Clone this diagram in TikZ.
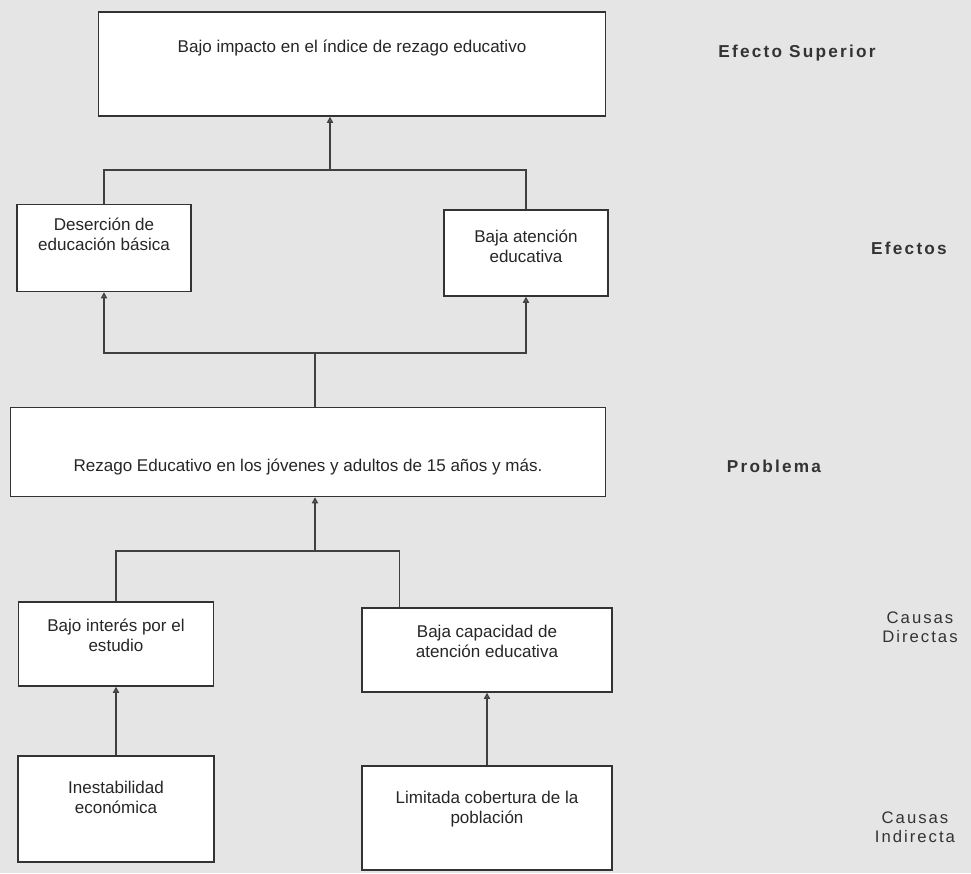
\documentclass[tikz,border=0pt]{standalone}
\usepackage{fontspec}
\setmainfont{Liberation Sans}
\usetikzlibrary{arrows.meta,calc}

\tikzset{
  caja/.style={draw=black!80, fill=white, line width=0.8pt, inner sep=0pt},
  texto/.style={anchor=north, align=center, inner sep=0pt, text=black!85,
    font=\fontsize{9.7}{11.4}\selectfont},
  nivel/.style={align=center, inner sep=0pt, text=black!80,
    font=\fontsize{9.5}{11}\selectfont\addfontfeatures{LetterSpace=12}},
  nivelb/.style={nivel, font=\fontsize{9.8}{11}\selectfont\bfseries\addfontfeatures{LetterSpace=13}},
  linea/.style={draw=black!75, line width=0.8pt},
  flecha/.style={linea, -{Triangle[width=3.5pt,length=3.5pt,fill=black!45]}}
}

\begin{document}
\begin{tikzpicture}[x=0.02cm, y=-0.02cm]
% fondo
\fill[black!10] (0,0) rectangle (971,873);

% cajas
\node[caja, minimum width=10.14cm, minimum height=2.08cm] (top) at (352,64) {};
\node[caja, minimum width=3.48cm, minimum height=1.74cm] (deser) at (104,248) {};
\node[caja, minimum width=3.28cm, minimum height=1.72cm] (bajaat) at (526,253) {};
\node[caja, minimum width=11.9cm, minimum height=1.78cm] (prob) at (308,452) {};
\node[caja, minimum width=3.9cm, minimum height=1.68cm] (interes) at (116,644) {};
\node[caja, minimum width=5cm, minimum height=1.68cm] (capac) at (487,650) {};
\node[caja, minimum width=3.92cm, minimum height=2.12cm] (inest) at (116,809) {};
\node[caja, minimum width=5cm, minimum height=2.08cm] (limit) at (487,818) {};

% textos de las cajas
\foreach \n/\t/\d in {
    top/{Bajo impacto en el índice de rezago educativo}/28,
    deser/{Deserción de\\educación básica}/14,
    bajaat/{Baja atención\\educativa}/20,
    prob/{Rezago Educativo en los jóvenes y adultos de 15 años y más.}/52,
    interes/{Bajo interés por el\\estudio}/17,
    capac/{Baja capacidad de\\atención educativa}/17,
    inest/{Inestabilidad\\económica}/25,
    limit/{Limitada cobertura de la\\población}/25} {
  \node[texto] (t\n) at ($(\n.north)+(0,\d)$) {\t};
}

% conectores
\coordinate (j1) at (330,170);
\draw[linea] (deser.north) |- (j1) -| (bajaat.north);
\draw[flecha] (j1) -- (j1 |- top.south);

\coordinate (j2) at (315,353);
\draw[linea] (j2 |- prob.north) -- (j2);
\draw[flecha] (j2) -| (deser.south);
\draw[flecha] (j2) -| (bajaat.south);

\coordinate (j3) at (315,551);
\draw[flecha] (j3) -- (j3 |- prob.south);
\draw[linea] (interes.north) |- (j3) -| ($(capac.north west)+(38,0)$);

\draw[flecha] (inest.north) -- (interes.south);
\draw[flecha] (limit.north) -- (capac.south);

% niveles
\node[nivelb] (efsup) at (797,53) {Efecto Superior};
\node[nivelb] (efectos) at (909,248) {Efectos};
\node[nivelb] (problema) at (774,466) {Problema};
\node[nivel] (cdir) at (920,627) {Causas\\Directas};
\node[nivel] (cind) at (915,827) {Causas\\Indirecta};
\end{tikzpicture}
\end{document}
